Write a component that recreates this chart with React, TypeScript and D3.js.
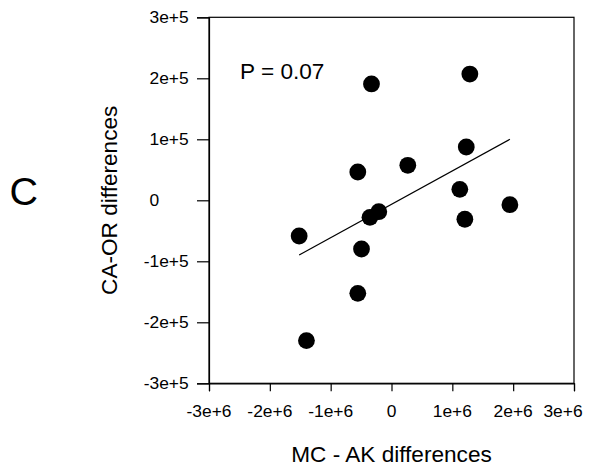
import React, { useRef, useEffect } from 'react'
import * as d3 from 'd3'

// MC - AK differences (x) vs CA-OR differences (y)
const mcAkDiff = [-1518000, -1398000, -554000, -329000, -554000, -493000, -354000, -209000, 268000, 1229000, 1288000, 1123000, 1206000, 1946000]
const caOrDiff = [-58500, -230000, 46400, 190700, -152500, -79800, -27900, -18700, 57400, 87400, 207000, 18000, -31100, -7200]

// fitted line end points
const fitX = [-1518000, 1946000]
const fitY = [-89700, 100000]

const xTicks = [-3e6, -2e6, -1e6, 0, 1e6, 2e6, 3e6]
const yTicks = [-3e5, -2e5, -1e5, 0, 1e5, 2e5, 3e5]

const panelLabel = 'C'
const pLabel = 'P = 0.07'
const xTitle = 'MC - AK differences'
const yTitle = 'CA-OR differences'

const FONT = '"Liberation Sans", Arial, sans-serif'

export default function App() {
  const ref = useRef<SVGSVGElement>(null)

  useEffect(() => {
    const svg = d3.select(ref.current)
    svg.selectAll('*').remove()

    const left = 209, right = 574, top = 17.3, bottom = 383.3

    const x = d3.scaleLinear().domain([-3e6, 3e6]).range([left, right])
    const y = d3.scaleLinear().domain([-3e5, 3e5]).range([bottom, top])

    // frame
    svg.append('rect')
      .attr('x', left).attr('y', top)
      .attr('width', right - left).attr('height', bottom - top)
      .attr('fill', 'none').attr('stroke', '#000').attr('stroke-width', 1.2)

    // y axis
    const yAxis = svg.append('g')
      .attr('transform', `translate(${left},0)`)
      .call(d3.axisLeft(y).tickValues(yTicks).tickSize(12).tickFormat(() => ''))
    yAxis.select('.domain').attr('stroke-width', 1.2)
    yAxis.selectAll('line').attr('stroke-width', 1.2)

    svg.append('g').selectAll('text')
      .data(yTicks)
      .enter()
      .append('text')
      .attr('x', 149.5)
      .attr('dx', d => d < 0 ? -5.8 : 0)
      .attr('y', d => y(d))
      .attr('dy', '0.35em')
      .attr('font-family', FONT)
      .attr('font-size', 17.4)
      .text(d => d === 0 ? '0' : `${d / 1e5}e+5`)

    // x axis
    const xAxis = svg.append('g')
      .attr('transform', `translate(0,${bottom})`)
      .call(d3.axisBottom(x).tickValues(xTicks).tickSize(8).tickFormat(() => ''))
    xAxis.select('.domain').attr('stroke-width', 1.2)
    xAxis.selectAll('line').attr('stroke-width', 1.2)

    // labels kept inside the right margin
    svg.append('g').selectAll('text')
      .data(xTicks)
      .enter()
      .append('text')
      .attr('x', d => Math.min(x(d), 563))
      .attr('y', 416.5)
      .attr('text-anchor', 'middle')
      .attr('font-family', FONT)
      .attr('font-size', 17.4)
      .text(d => d === 0 ? '0' : `${d / 1e6}e+6`)

    // regression line
    svg.append('path')
      .datum(fitX.map((v, i) => [v, fitY[i]]))
      .attr('fill', 'none')
      .attr('stroke', '#000')
      .attr('stroke-width', 1.2)
      .attr('d', d3.line().x(d => x(d[0])).y(d => y(d[1])))

    // points
    svg.append('g')
      .selectAll('circle')
      .data(mcAkDiff)
      .enter()
      .append('circle')
      .attr('cx', d => x(d))
      .attr('cy', (d, i) => y(caOrDiff[i]))
      .attr('r', 8.4)
      .attr('fill', '#000')

    // texts
    svg.append('text')
      .attr('x', 240).attr('y', 79)
      .attr('font-family', FONT).attr('font-size', 22.6)
      .text(pLabel)

    svg.append('text')
      .attr('x', (left + right) / 2).attr('y', 461.5)
      .attr('text-anchor', 'middle')
      .attr('font-family', FONT).attr('font-size', 22.6)
      .text(xTitle)

    svg.append('text')
      .attr('transform', `translate(117,${(top + bottom) / 2}) rotate(-90)`)
      .attr('text-anchor', 'middle')
      .attr('font-family', FONT).attr('font-size', 22.6)
      .text(yTitle)

    svg.append('text')
      .attr('x', 9.5).attr('y', 205)
      .attr('font-family', FONT).attr('font-size', 39.5)
      .text(panelLabel)
  }, [])

  return (
    <svg
      ref={ref}
      width={598}
      height={470}
      style={{ position: 'absolute', left: 0, top: 0, background: '#fff' }}
    />
  )
}
